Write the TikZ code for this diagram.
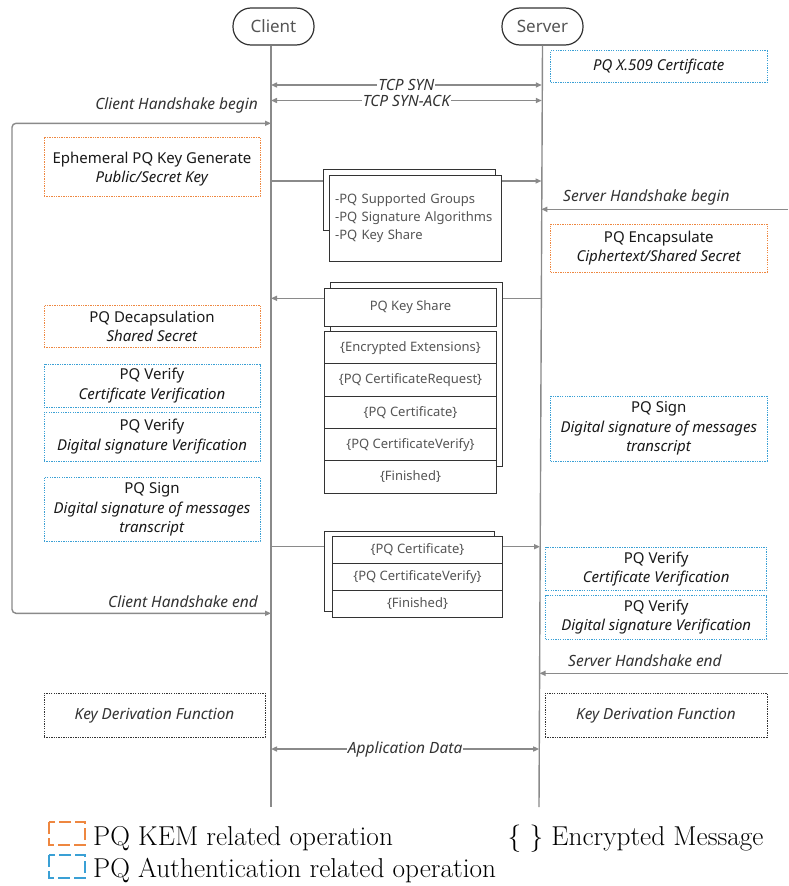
\documentclass[tikz,border=0pt]{standalone}
\usepackage{fontspec}
\newfontfamily\osans{Noto Sans}
\usetikzlibrary{arrows.meta,calc}
\definecolor{kem}{HTML}{EE8740}
\definecolor{auth}{HTML}{3AA0D5}
\definecolor{lgray}{HTML}{8A8A8A}
\definecolor{dtext}{HTML}{333333}
\definecolor{mtext}{HTML}{555555}
\begin{document}
\begin{tikzpicture}[x=1pt,y=-1pt,
  flow/.style={draw=lgray, line width=1.4pt},
  arr/.style={-{Triangle[length=6pt,width=5pt]}},
  darr/.style={{Triangle[length=6pt,width=5pt]}-{Triangle[length=6pt,width=5pt]}},
  optext/.style={align=center, inner sep=0pt, font=\osans\fontsize{15}{19.5}\selectfont, text=black!90},
  op/.style={draw, line width=0.9pt, dash pattern=on 1.3pt off 1.1pt, optext},
  kemop/.style={op, draw=kem},
  authop/.style={op, draw=auth},
  kdfop/.style={op, draw=dtext, font=\osans\itshape\fontsize{15.3}{19.5}\selectfont, text=dtext},
  msg/.style={draw=dtext, fill=white, line width=1pt, inner sep=0pt, align=center,
     font=\osans\fontsize{13}{18.3}\selectfont, text=mtext},
  lbl/.style={font=\osans\itshape\fontsize{15.5}{18}\selectfont, text=dtext, inner sep=0pt},
  head/.style={draw=dtext, line width=1.2pt, rounded corners=18pt, minimum width=81pt, minimum height=37pt,
     font=\osans\fontsize{17}{20}\selectfont, text=mtext},
  legtext/.style={font=\fontsize{27.3}{32}\selectfont, inner sep=0pt, anchor=base west}
]
\useasboundingbox[fill=white] (0,0) rectangle (788,886);

% headers and lifelines
\node[head] (client) at (273.5,26.5) {Client};
\node[head] (server) at (542.5,26.5) {Server};
\coordinate (cend) at (271,807);
\coordinate (send) at (539,807);
\draw[flow] (client.south -| cend) -- (cend);
\draw[flow] (server.south) -- (send);

% lifeline points
\coordinate (c1) at (271,85);    \coordinate (s1) at (541.8,85);
\coordinate (c2) at (271,100.5); \coordinate (s2) at (541.8,100.5);
\coordinate (cb1) at (271,123.3); \coordinate (cb2) at (271,613.3);
\coordinate (k1) at (12,123.3);  \coordinate (k2) at (12,613.3);
\coordinate (c3) at (271,181);   \coordinate (s3) at (541.5,181);
\coordinate (e4) at (788,209.3); \coordinate (s4) at (541.3,209.3);
\coordinate (c5) at (271,298.3); \coordinate (s5) at (541,298.3);
\coordinate (c6) at (271,546.7); \coordinate (s6) at (540,546.7);
\coordinate (e7) at (788,673.3); \coordinate (s7) at (539.5,673.3);
\coordinate (c8) at (271,749);   \coordinate (s8) at (539.2,749);

% TCP
\draw[flow,darr] (c1) -- node[lbl, fill=white, inner xsep=1pt] (tsyn) {TCP SYN} (s1);
\draw[flow,darr] (c2) -- node[lbl, fill=white, inner xsep=1pt] (tack) {TCP SYN-ACK} (s2);

% client handshake bracket
\draw[flow,darr,rounded corners=4pt] (cb1) -- (k1) -- (k2) -- (cb2);
\node[lbl, anchor=east] (chb) at (258,105) {Client Handshake begin};
\node[lbl, anchor=east] (che) at (258,601.7) {Client Handshake end};

% server handshake lines
\draw[flow,arr] (e4) -- (s4);
\node[lbl, anchor=west] (shbl) at (563,197) {Server Handshake begin};
\draw[flow,arr] (e7) -- (s7);
\node[lbl, anchor=west] (shel) at (568,660.7) {Server Handshake end};

% client operations
\node[kemop, minimum width=216pt, minimum height=59.5pt,
  label={[optext, yshift=-2.5pt]center:Ephemeral PQ Key Generate\\\textit{Public/Secret Key}}] (ekg) at (152,166.75) {};
\node[kemop, minimum width=216pt, minimum height=42.7pt] (dec) at (152,326.4)
  {PQ Decapsulation\\\textit{Shared Secret}};
\node[authop, minimum width=216pt, minimum height=43.3pt] (cv1) at (152,385.7)
  {PQ Verify\\\textit{Certificate Verification}};
\node[authop, minimum width=216pt, minimum height=49pt] (cv2) at (152,436.8)
  {PQ Verify\\\textit{Digital signature Verification}};
\node[authop, minimum width=216pt, minimum height=64.4pt] (csg) at (152,509.5)
  {PQ Sign\\\textit{Digital signature of messages}\\\textit{transcript}};
\node[kdfop, minimum width=221pt, minimum height=44pt] (ckdf) at (154.5,715.3)
  {Key Derivation Function};

% server operations
\node[authop, minimum width=216.3pt, minimum height=32pt] (x509) at (658.8,66.7)
  {\textit{PQ X.509 Certificate}};
\node[kemop, minimum width=216.3pt, minimum height=48.3pt] (enc) at (658.8,248.2)
  {PQ Encapsulate\\\textit{Ciphertext/Shared Secret}};
\node[authop, minimum width=216.3pt, minimum height=65pt] (ssg) at (658.8,428.5)
  {PQ Sign\\\textit{Digital signature of messages}\\\textit{transcript}};
\node[authop, minimum width=221pt, minimum height=43.4pt] (sv1) at (656.2,569)
  {PQ Verify\\\textit{Certificate Verification}};
\node[authop, minimum width=221pt, minimum height=43.3pt] (sv2) at (656.2,617.3)
  {PQ Verify\\\textit{Digital signature Verification}};
\node[kdfop, minimum width=222pt, minimum height=44pt] (skdf) at (656,715.3)
  {Key Derivation Function};

% ClientHello
\node[msg, minimum width=172.4pt, minimum height=60.7pt] (chback) at (409.5,199.65) {};
\node[msg, text width=160pt, inner xsep=6pt, align=left, minimum height=86pt] (chf) at (415.15,218)
  {-PQ Supported Groups\\-PQ Signature Algorithms\\-PQ Key Share};
\draw[flow] (c3) -- (chback.west |- c3);
\draw[flow,arr] (chf.east |- c3) -- (s3);

% ServerHello
\node[msg, minimum width=172.3pt, minimum height=184pt] (shback) at (416.15,374.7) {};
\node[msg, minimum width=172.4pt, minimum height=37.7pt] (sks) at (410.5,307.15) {PQ Key Share};
\node[msg, minimum width=172.4pt, minimum height=32.26pt] (sh1) at (410.5,347.83) {\{Encrypted Extensions\}};
\node[msg, minimum width=172.4pt, minimum height=32.26pt] (sh2) at (410.5,380.09) {\{PQ CertificateRequest\}};
\node[msg, minimum width=172.4pt, minimum height=32.26pt] (sh3) at (410.5,412.35) {\{PQ Certificate\}};
\node[msg, minimum width=172.4pt, minimum height=32.26pt] (sh4) at (410.5,444.61) {\{PQ CertificateVerify\}};
\node[msg, minimum width=172.4pt, minimum height=32.26pt] (sh5) at (410.5,476.87) {\{Finished\}};
\draw[flow] (s5) -- (shback.east |- s5);
\draw[flow,arr] (sks.west |- c5) -- (c5);

% Client Finished
\node[msg, minimum width=170.4pt, minimum height=80.7pt] (cfback) at (409.5,571.35) {};
\node[msg, minimum width=170.4pt, minimum height=27.1pt] (cf1) at (417.5,549.55) {\{PQ Certificate\}};
\node[msg, minimum width=170.4pt, minimum height=27.1pt] (cf2) at (417.5,576.65) {\{PQ CertificateVerify\}};
\node[msg, minimum width=170.4pt, minimum height=27.1pt] (cf3) at (417.5,603.75) {\{Finished\}};
\draw[flow] (c6) -- (cfback.west |- c6);
\draw[flow,arr] (cf1.east |- c6) -- (s6);

% Application data
\draw[flow,darr] (c8) -- node[lbl, fill=white, inner xsep=1pt] (appd) {Application Data} (s8);

% legend
\draw[kem, line width=1.2pt, dash pattern=on 12pt off 4pt] (49,822) rectangle (85,845);
\draw[auth, line width=1.2pt, dash pattern=on 12pt off 4pt] (49,855) rectangle (85,878);
\node[legtext] (lg1) at (93,845) {PQ KEM related operation};
\node[legtext] (lg2) at (93,877.5) {PQ Authentication related operation};
\node[legtext] (lg3) at (507.5,845) {\{ \} Encrypted Message};
\end{tikzpicture}
\end{document}
